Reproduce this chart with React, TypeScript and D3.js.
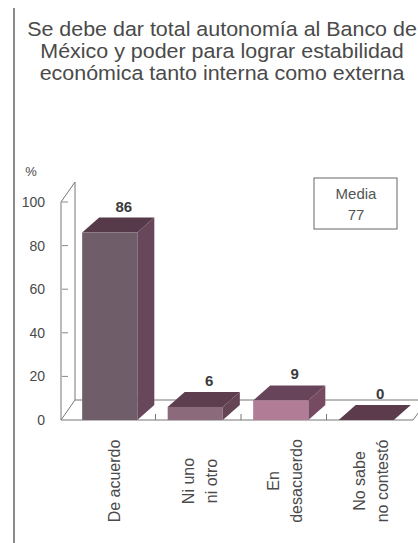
import React from "react";
import * as d3 from "d3";

const titleLines = [
  "Se debe dar total autonomía al Banco de",
  "México y poder para lograr estabilidad",
  "económica tanto interna como externa",
];
const categories = ["De acuerdo", "Ni uno ni otro", "En desacuerdo", "No sabe no contestó"];
const categoryLines = [["De acuerdo"], ["Ni uno", "ni otro"], ["En", "desacuerdo"], ["No sabe", "no contestó"]];
const values = [86, 6, 9, 0];
const yTicks = [0, 20, 40, 60, 80, 100];
const frontColors = ["#6f5d69", "#8b6a7b", "#b07c96", "#6a4458"];
const sideColors = ["#68475a", "#654454", "#764a60", "#5e3d4d"];
const topColors = ["#573a49", "#5d3e4e", "#68445a", "#5c3c4c"];
const mediaLabel = "Media";
const mediaValue = "77";

const W = 418;
const H = 543;

export default function App() {
  const y = d3.scaleLinear().domain([0, 100]).range([420, 202]);
  const x = d3.scaleBand<string>().domain(categories).range([70, 412]).padding(0);
  const barW = x.bandwidth() * 0.645;
  const dx = 17;
  const dy = -15;
  const fdx = 15;
  const fdy = -20;
  const y0 = y(0);
  const wallX = 61;
  const floorRight = 413;
  const textColor = "#4a4a4a";
  const line = d3.line();

  return (
    <svg width={W} height={H} style={{ position: "absolute", left: 0, top: 0, background: "#fff" }}
      fontFamily="'Liberation Sans', Arial, sans-serif">
      <rect x={0} y={0} width={W} height={H} fill="#fff" />
      {/* left border */}
      <line x1={14} y1={8} x2={14} y2={H} stroke="#8a8a8a" strokeWidth={2} />
      {/* title */}
      {titleLines.map((t, i) => (
        <text key={i} transform={`translate(222,${36 + i * 22}) scale(1.1,1)`} textAnchor="middle" fontSize={19.5} fill={textColor}>{t}</text>
      ))}
      {/* % */}
      <text x={31} y={176} textAnchor="middle" fontSize={13} fill={textColor}>%</text>
      {/* wall */}
      <path d={line([[wallX, y0], [wallX, y(100)], [wallX + fdx - 1, y(100) + fdy], [wallX + fdx - 1, y0 + fdy]]) || ""}
        fill="#fff" stroke="#777" strokeWidth={1} />
      {/* floor */}
      <path d={line([[wallX, y0], [floorRight, y0], [floorRight + fdx, y0 + fdy], [wallX + fdx - 1, y0 + fdy]]) + "Z"}
        fill="#fff" stroke="#777" strokeWidth={1} />
      <line x1={floorRight + fdx} y1={y0 + fdy} x2={W} y2={y0 + fdy} stroke="#777" />
      {/* y ticks */}
      {yTicks.map((v) => (
        <g key={v}>
          {v > 0 && <line x1={wallX + 1} x2={wallX + 7} y1={y(v)} y2={y(v)} stroke="#888" />}
          <text x={45} y={y(v) + 5} textAnchor="end" fontSize={14} fill={textColor}>{v}</text>
        </g>
      ))}
      {/* category boundary ticks */}
      {categories.slice(1).map((c) => (
        <line key={c} x1={x(c)!} x2={x(c)!} y1={y0} y2={y0 - 6} stroke="#777" />
      ))}
      {/* bars */}
      {categories.map((c, i) => {
        const cx = x(c)! + x.bandwidth() / 2 - 3;
        const x0 = cx - barW / 2;
        const x1 = cx + barW / 2;
        const yt = y(values[i]);
        return (
          <g key={c}>
            {values[i] > 0 && (
              <path d={line([[x1, y0], [x1, yt], [x1 + dx, yt + dy], [x1 + dx, y0 + dy]]) + "Z"} fill={sideColors[i]} />
            )}
            <path d={line([[x0, yt], [x1, yt], [x1 + dx, yt + dy], [x0 + dx, yt + dy]]) + "Z"} fill={topColors[i]} />
            {values[i] > 0 && <rect x={x0} y={yt} width={barW} height={y0 - yt} fill={frontColors[i]} />}
            <text x={cx + 14} y={yt + dy - 6} textAnchor="middle" fontSize={15} fontWeight="bold" fill="#3a3a3a">{values[i]}</text>
          </g>
        );
      })}
      {/* category labels */}
      {categoryLines.map((ls, i) => {
        const cx = x(categories[i])! + x.bandwidth() / 2 + 1;
        const n = ls.length;
        return ls.map((l, j) => {
          const lx = cx + (j - (n - 1) / 2) * 23 + 6;
          return (
            <text key={i + "-" + j} transform={`translate(${lx},481) rotate(-90)`} textAnchor="middle" fontSize={16} fill={textColor}>{l}</text>
          );
        });
      })}
      {/* media box */}
      <rect x={314} y={178} width={83} height={51} fill="#fff" stroke="#666" strokeWidth={1} />
      <text x={356} y={199} textAnchor="middle" fontSize={15} fill="#555">{mediaLabel}</text>
      <text x={356} y={220} textAnchor="middle" fontSize={15} fill="#555">{mediaValue}</text>
    </svg>
  );
}
